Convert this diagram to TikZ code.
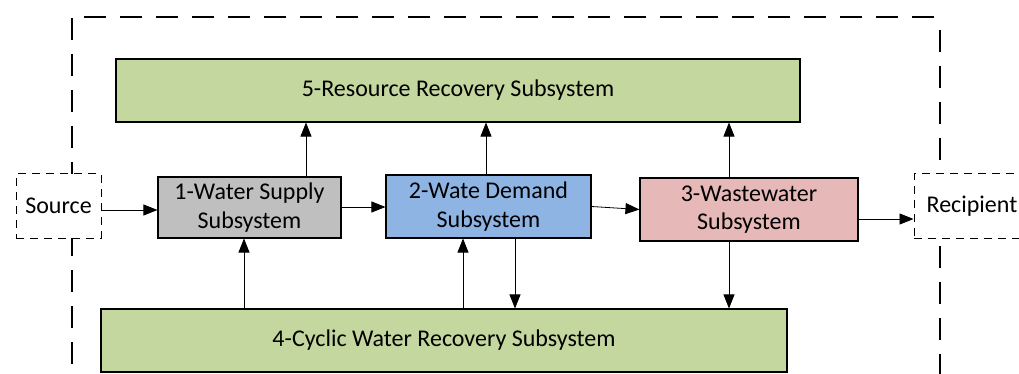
\documentclass[tikz,border=0pt]{standalone}
\usepackage{fontspec}
\setmainfont{Carlito}
\usepackage{tikz}
\usetikzlibrary{arrows.meta}
\definecolor{recgreen}{RGB}{196,215,158}
\definecolor{supgray}{RGB}{191,191,191}
\definecolor{demblue}{RGB}{141,180,226}
\definecolor{wastepink}{RGB}{230,184,183}
\tikzstyle{arrow} = [line width=0.8pt,-{Triangle[length=14pt,width=11pt]}]
\tikzstyle{sub} = [draw, line width=1.1pt, inner sep=0pt, align=center, minimum height=63pt, font=\fontsize{24}{28.5}\selectfont]
\tikzstyle{ext} = [draw, line width=1pt, dash pattern=on 8pt off 6pt, fill=white, inner sep=0pt, minimum height=64pt, font=\fontsize{24}{28.5}\selectfont]
\tikzstyle{frame} = [line width=1.2pt, dash pattern=on 22pt off 14pt]

\begin{document}
\begin{tikzpicture}[x=1pt,y=-1pt]
	\clip (0,0) rectangle (1019,374);
	\fill [white] (0,0) rectangle (1019,374);
	\draw [frame] (72,18) -- (72,374);
	\draw [frame] (84,17) -- (940,17);
	\draw [frame] (940,30) -- (940,374);
	\node [sub, fill=recgreen, minimum width=684pt] (recovery) at (458,90.5) {5-Resource Recovery Subsystem};
	\node [sub, fill=recgreen, minimum width=686pt] (cyclic) at (444,340.5) {4-Cyclic Water Recovery Subsystem};
	\node [sub, fill=supgray, minimum width=183pt, minimum height=61pt] (supply) at (249.5,207.5) {1-Water Supply\\Subsystem};
	\node [sub, fill=demblue, minimum width=205pt] (demand) at (488.5,206.5) {2-Wate Demand\\Subsystem};
	\node [sub, fill=wastepink, minimum width=218pt] (waste) at (749,209.5) {3-Wastewater\\Subsystem};
	\node [ext, minimum width=85pt] (source) at (58.5,206) {Source};
	\node [ext, minimum width=116pt] (recipient) at (972,206) {Recipient};
	\draw [arrow] ([yshift=-4pt]source.east) -- ([yshift=-4pt]source.east -| supply.west);
	\draw [arrow] ([yshift=0.5pt]supply.east) -- ([yshift=0.5pt]supply.east -| demand.west);
	\draw [arrow] (demand.east) -- (waste.west);
	\draw [arrow] ([yshift=-9.5pt]waste.east) -- ([yshift=-9.5pt]waste.east -| recipient.west);
	\draw [arrow] ([xshift=56.5pt]supply.north) -- ([xshift=56.5pt]supply.north |- recovery.south);
	\draw [arrow] ([xshift=-2.5pt]demand.north) -- ([xshift=-2.5pt]demand.north |- recovery.south);
	\draw [arrow] ([xshift=-20pt]waste.north) -- ([xshift=-20pt]waste.north |- recovery.south);
	\draw [arrow] ([xshift=-5.5pt]supply.south |- cyclic.north) -- ([xshift=-5.5pt]supply.south);
	\draw [arrow] ([xshift=-25.5pt]demand.south |- cyclic.north) -- ([xshift=-25.5pt]demand.south);
	\draw [arrow] ([xshift=26.5pt]demand.south) -- ([xshift=26.5pt]demand.south |- cyclic.north);
	\draw [arrow] ([xshift=-20pt]waste.south) -- ([xshift=-20pt]waste.south |- cyclic.north);
\end{tikzpicture}
\end{document}
